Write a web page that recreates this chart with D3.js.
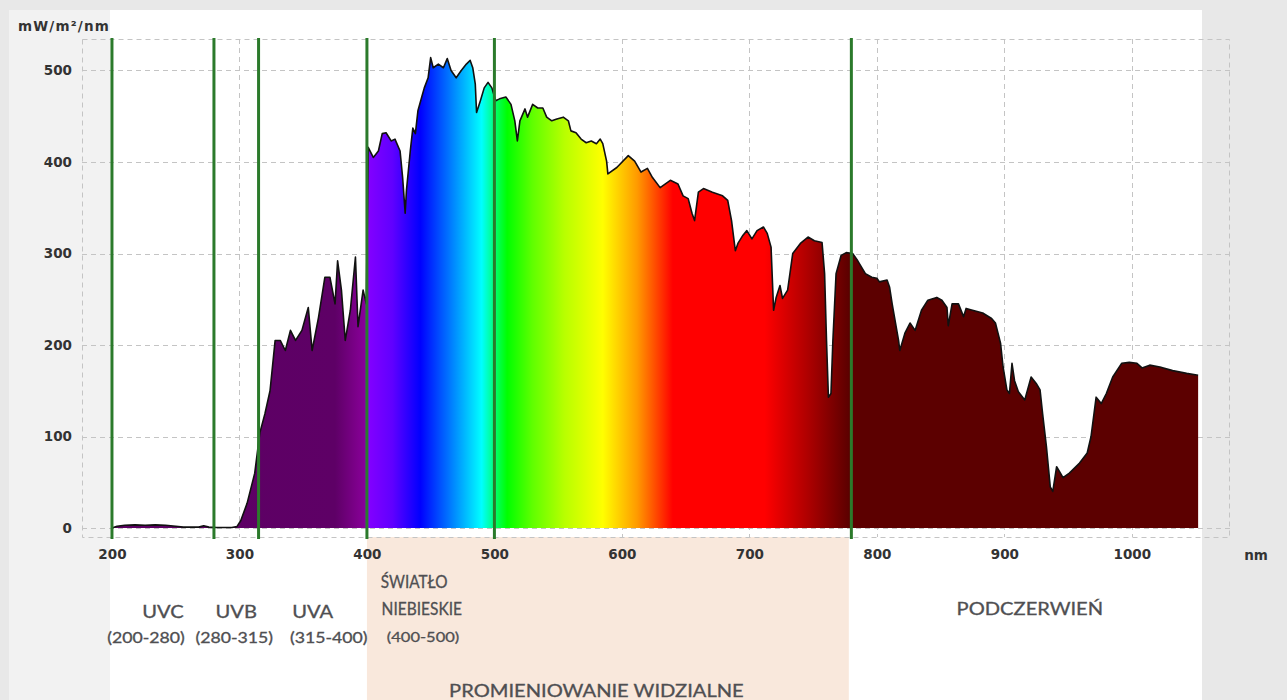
<!DOCTYPE html>
<html>
<head>
<meta charset="utf-8">
<script src="https://cdn.jsdelivr.net/npm/d3@7"></script>
<style>
  body { margin: 0; background: #e8e8e8; }
  .tick-label { font-family: "DejaVu Sans", Verdana, sans-serif; font-weight: bold; font-size: 13.5px; fill: #333; }
  .band { font-family: Lato, "Open Sans", sans-serif; fill: #4f4f52; stroke: #4f4f52; stroke-width: 0.3px; }
</style>
</head>
<body>
<div class="container"></div>
<script>
// wavelength (nm) and irradiance (mW/m2/nm)
const wavelengths = [200, 204, 210, 218, 226, 234, 242, 250, 256, 268, 272, 276, 282, 294, 298, 301, 306, 312, 316, 320, 324, 328, 332, 336, 340, 344, 349, 354, 357, 362, 367, 371, 375, 377, 380, 383, 387, 391, 393, 397, 399.5,
  401, 405, 409, 412, 415, 419, 422, 426, 428, 430, 431, 434, 436, 438, 440, 443, 445, 448, 450, 452, 456, 460, 463, 466, 470, 474, 478, 481, 483, 485, 486, 489, 492, 495, 498, 501, 504, 509, 513, 516, 518, 520, 524, 526, 530, 534, 538, 541, 545, 549, 554, 558, 560, 564, 568, 572, 576, 580, 583, 585, 588, 589, 596, 605, 610, 615, 620, 624, 630, 638, 644, 648, 652, 655, 657, 660, 664, 671, 679, 683, 686, 689, 691, 695, 698, 702, 706, 711, 714, 717, 719, 721, 724, 726, 730, 734, 740, 746, 751, 757, 759, 760.5, 762, 764, 765.5, 768, 772, 776,
  781, 785, 791, 796, 800, 802, 808, 810, 812, 817, 818, 822, 826, 830, 835, 840, 847, 851, 855, 856, 859, 864, 868, 870, 875, 883, 890, 893, 897, 899, 902, 904, 906, 908, 911, 916, 921, 925, 928, 930, 933, 936, 938, 941, 944, 946, 951, 959, 965, 968, 972, 976, 980, 985, 992, 998, 1004, 1008, 1014, 1022, 1032, 1043, 1052];
const irradiance = [0, 2, 3, 3.5, 3, 3.5, 3, 2, 1, 1, 2.5, 1, 0.5, 0.5, 1.5, 8, 27, 60, 104, 125, 150, 205, 205, 194, 216, 205, 216, 241, 194, 230, 274, 274, 245, 292, 260, 205, 238, 296, 220, 260, 245,
  416, 405, 412, 431, 432, 423, 425, 412, 383, 344, 369, 412, 437, 431, 456, 471, 481, 492, 514, 503, 507, 503, 513, 500, 492, 500, 507, 511, 503, 485, 454, 467, 481, 487, 481, 467, 469, 471, 463, 445, 423, 445, 458, 449, 463, 459, 459, 449, 445, 447, 449, 445, 434, 432, 425, 421, 423, 420, 425, 420, 401, 387, 394, 407, 401, 389, 393, 383, 372, 380, 376, 363, 360, 344, 336, 367, 371, 367, 363, 358, 336, 303, 311, 320, 325, 316, 325, 329, 322, 307, 238, 252, 265, 251, 260, 300, 311, 318, 314, 312, 278, 205, 143, 147, 205, 278, 298, 301,
  300, 292, 278, 274, 273, 269, 271, 263, 245, 205, 194, 213, 224, 216, 238, 249, 252, 249, 241, 221, 245, 245, 231, 240, 238, 235, 229, 224, 202, 176, 151, 147, 180, 161, 149, 140, 165, 158, 151, 125, 89, 45, 40, 67, 60, 55, 60, 71, 82, 100, 143, 136, 147, 165, 180, 181, 180, 175, 178, 176, 172, 169, 167];

const xTicks = [200, 300, 400, 500, 600, 700, 800, 900, 1000];
const yTicks = [0, 100, 200, 300, 400, 500];

// band boundaries (green lines)
const boundaries = [200, 280, 315, 400, 500, 780];
const uvNames = ["UVC", "UVB", "UVA"];
const uvRanges = ["(200-280)", "(280-315)", "(315-400)"];
const uvStart = [200, 280, 315];
const uvEnd = [280, 315, 400];

// colour of the light at each wavelength
const colorNm = [200, 375, 398, 400.5, 420, 442, 465, 490, 503, 510, 530, 555, 585, 612, 640, 712, 745, 778, 1060];
const colorHex = ["#5c0062", "#5e0066", "#880098", "#8400ff", "#6000ff", "#0000ff", "#0078ff", "#00ffff", "#00ff50", "#00ff00", "#60ff00", "#b8ff00", "#ffff00", "#ff9a00", "#ff0000", "#ff0000", "#b00000", "#5c0000", "#5c0000"];

const w = 1287;
const h = 700;

const data = wavelengths.map((d, i) => ({ nm: d, v: irradiance[i] }));

const xScale = d3.scaleLinear()
                 .domain([176.5, 1077])
                 .range([82, 1230]);
const yScale = d3.scaleLinear()
                 .domain([-9.8, 534.4])
                 .range([537, 39]);

const svg = d3.select(".container")
  .append("svg")
  .attr("width", w)
  .attr("height", h);

// page panels
svg.append("rect").attr("x", 9).attr("y", 10).attr("width", 101).attr("height", h - 10).attr("fill", "#f2f2f2");
svg.append("rect").attr("x", 110).attr("y", 10).attr("width", 1092).attr("height", h - 10).attr("fill", "#fff");

// visible light box under the axis
svg.append("rect")
  .attr("x", xScale(400))
  .attr("y", 537)
  .attr("width", xScale(778) - xScale(400))
  .attr("height", h - 537)
  .attr("fill", "#f9e8dc");

// dashed grid
const grid = svg.append("g").attr("stroke", "#c4c4c4").attr("stroke-width", 1).attr("stroke-dasharray", "5,4");
grid.selectAll(".hg")
  .data(yTicks)
  .enter()
  .append("line")
  .attr("x1", 82).attr("x2", 1230)
  .attr("y1", d => Math.round(yScale(d)) + 0.5)
  .attr("y2", d => Math.round(yScale(d)) + 0.5);
grid.selectAll(".vg")
  .data(xTicks)
  .enter()
  .append("line")
  .attr("x1", d => Math.round(xScale(d)) + 0.5)
  .attr("x2", d => Math.round(xScale(d)) + 0.5)
  .attr("y1", 39).attr("y2", 537);
grid.append("rect")
  .attr("x", 82.5).attr("y", 39.5)
  .attr("width", 1147).attr("height", 498)
  .attr("fill", "none");

// spectrum gradient
const defs = svg.append("defs");
const grad = defs.append("linearGradient")
  .attr("id", "spectrum")
  .attr("gradientUnits", "userSpaceOnUse")
  .attr("x1", xScale(colorNm[0])).attr("x2", xScale(colorNm[colorNm.length - 1]))
  .attr("y1", 0).attr("y2", 0);
const span = colorNm[colorNm.length - 1] - colorNm[0];
grad.selectAll("stop")
  .data(colorNm)
  .enter()
  .append("stop")
  .attr("offset", d => (d - colorNm[0]) / span)
  .attr("stop-color", (d, i) => colorHex[i]);

const area = d3.area()
  .x(d => xScale(d.nm))
  .y0(yScale(0))
  .y1(d => yScale(d.v));
const line = d3.line()
  .x(d => xScale(d.nm))
  .y(d => yScale(d.v));

svg.append("path")
  .datum(data)
  .attr("d", area)
  .attr("fill", "url(#spectrum)");
svg.append("path")
  .datum(data)
  .attr("d", line)
  .attr("fill", "none")
  .attr("stroke", "#111")
  .attr("stroke-width", 1.6)
  .attr("stroke-linejoin", "round");

// green band lines
svg.selectAll(".band-line")
  .data(boundaries)
  .enter()
  .append("line")
  .attr("x1", d => xScale(d))
  .attr("x2", d => xScale(d))
  .attr("y1", 38)
  .attr("y2", 539)
  .attr("stroke", "#2b7a2b")
  .attr("stroke-width", 3);

// axes (labels only)
const xAxis = d3.axisBottom(xScale).tickValues(xTicks).tickSize(0).tickPadding(12).tickFormat(d3.format("d"));
const yAxis = d3.axisLeft(yScale).tickValues(yTicks).tickSize(0).tickPadding(10);

const gx = svg.append("g").attr("transform", "translate(0,537)").call(xAxis);
const gy = svg.append("g").attr("transform", "translate(82,0)").call(yAxis);
[gx, gy].forEach(g => {
  g.select(".domain").remove();
  g.selectAll("text").attr("class", "tick-label").attr("font-family", null).attr("font-size", null).attr("fill", null);
});

svg.append("text").attr("class", "tick-label").attr("x", 18).attr("y", 31).style("letter-spacing", "1.2px").text("mW/m²/nm");
svg.append("text").attr("class", "tick-label").attr("x", 1256).attr("y", 560).attr("text-anchor", "middle").text("nm");

// the original lettering is wide, so most labels are stretched a little
function addLabel(x, y, txt, size, stretch) {
  svg.append("text")
    .attr("class", "band")
    .attr("transform", "translate(" + x + "," + y + ") scale(" + stretch + ",1)")
    .attr("text-anchor", "middle")
    .style("font-size", size + "px")
    .text(txt);
}

uvNames.forEach((d, i) => addLabel(xScale((uvStart[i] + uvEnd[i]) / 2), 618, d, 16.5, 1.22));
uvRanges.forEach((d, i) => addLabel(xScale((uvStart[i] + uvEnd[i]) / 2) + [-17, -2, 16][i], 643, d, 14.5, 1.22));

addLabel(xScale(437), 588, "ŚWIATŁO", 16.5, 0.93);
addLabel(xScale(443), 615, "NIEBIESKIE", 16.5, 0.94);
addLabel(xScale(444), 642, "(400-500)", 14, 1.18);
addLabel(xScale(580), 697, "PROMIENIOWANIE WIDZIALNE", 16.5, 1.22);
addLabel(xScale(920), 615, "PODCZERWIEŃ", 16.5, 1.22);
</script>
</body>
</html>
